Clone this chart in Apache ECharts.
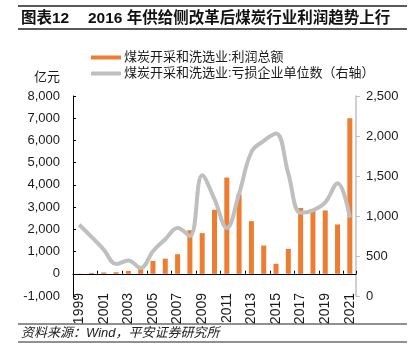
<!DOCTYPE html>
<html>
<head>
<meta charset="utf-8">
<script src="https://cdn.jsdelivr.net/npm/echarts@6/dist/echarts.min.js"></script>
<style>html,body{margin:0;padding:0;background:#fff;}#c{width:414px;height:363px;}</style>
</head>
<body>
<div id="c"></div>
<script>
const years = ['1999','2000','2001','2002','2003','2004','2005','2006','2007','2008','2009','2010','2011','2012','2013','2014','2015','2016','2017','2018','2019','2020','2021'];
const profit = [10, 40, 60, 70, 130, 280, 580, 680, 880, 1960, 1830, 2880, 4330, 3580, 2370, 1270, 450, 1120, 2960, 2890, 2850, 2220, 7000];
const lossCount = [890, 740, 580, 400, 445, 350, 560, 710, 850, 750, 1510, 1210, 850, 1280, 1800, 1940, 2030, 1530, 1040, 1070, 1170, 1410, 980];
const leftTicks = {min: -1000, max: 8000, interval: 1000};
const rightTicks = {min: 0, max: 2500, interval: 500};
const seriesNames = ['煤炭开采和洗选业:利润总额', '煤炭开采和洗选业:亏损企业单位数（右轴）'];

const FONT = '"Liberation Sans", Arial, "Noto Sans CJK SC", sans-serif';
const fmt = v => {
  const s = Math.abs(v).toString().replace(/\B(?=(\d{3})+(?!\d))/g, ',');
  return (v < 0 ? '-' : '') + s;
};
const chart = echarts.init(document.getElementById('c'), null, {renderer: 'canvas'});
chart.setOption({
  animation: false,
  backgroundColor: '#fff',
  textStyle: {fontFamily: FONT},
  grid: {left: 73, right: 58, top: 96, bottom: 67, containLabel: false},
  legend: {
    orient: 'vertical', left: 86, top: 46, itemGap: 3, itemWidth: 30, itemHeight: 4,
    textStyle: {fontSize: 13, color: '#1a1a1a', fontFamily: FONT, lineHeight: 13, padding: [0,0,0,-2]},
    data: [
      {name: seriesNames[0], icon: 'rect'},
      {name: seriesNames[1], icon: 'roundRect'}
    ]
  },
  xAxis: {
    type: 'category', data: years, boundaryGap: true,
    axisLine: {onZero: true, onZeroAxisIndex: 0, lineStyle: {color: '#000', width: 1}},
    axisTick: {show: true, inside: true, length: 3, interval: 1, lineStyle: {color: '#000'}},
    axisLabel: {rotate: 90, interval: 1, margin: -3, fontSize: 14, color: '#1a1a1a', fontFamily: FONT}
  },
  yAxis: [
    {
      type: 'value', min: leftTicks.min, max: leftTicks.max, interval: leftTicks.interval,
      axisLine: {show: true, lineStyle: {color: '#000', width: 1}},
      axisTick: {show: true, inside: true, length: 3, lineStyle: {color: '#000'}},
      axisLabel: {formatter: fmt, fontSize: 13, color: '#1a1a1a', margin: 13, fontFamily: FONT},
      splitLine: {show: false}
    },
    {
      type: 'value', min: rightTicks.min, max: rightTicks.max, interval: rightTicks.interval,
      position: 'right',
      axisLine: {show: true, lineStyle: {color: '#bfbfbf', width: 1.5}},
      axisTick: {show: true, inside: false, length: 4, lineStyle: {color: '#bfbfbf'}},
      axisLabel: {formatter: fmt, fontSize: 13, color: '#1a1a1a', margin: 10, fontFamily: FONT},
      splitLine: {show: false}
    }
  ],
  series: [
    {
      name: seriesNames[0], type: 'bar', yAxisIndex: 0, data: profit, barWidth: 5,
      itemStyle: {color: '#ED7D31'}, z: 2
    },
    {
      name: seriesNames[1], type: 'line', yAxisIndex: 1, data: lossCount, smooth: 0.4,
      showSymbol: false, symbol: 'none', lineStyle: {color: '#BFBFBF', width: 4},
      itemStyle: {color: '#BFBFBF'}, z: 3
    }
  ],
  graphic: [
    {type: 'line', shape: {x1: 18, y1: 6, x2: 407, y2: 6}, style: {stroke: '#222', lineWidth: 1.5}},
    {type: 'line', shape: {x1: 18, y1: 29, x2: 407, y2: 29}, style: {stroke: '#222', lineWidth: 1.5}},
    {type: 'text', left: 21, top: 11, style: {text: '图表12', font: 'bold 15.5px ' + FONT, fill: '#111'}},
    {type: 'text', left: 88, top: 11, style: {text: '2016 年供给侧改革后煤炭行业利润趋势上行', font: 'bold 15.5px ' + FONT, fill: '#111'}},
    {type: 'text', left: 34, top: 71, style: {text: '亿元', font: '13px ' + FONT, fill: '#1a1a1a'}},
    {type: 'line', shape: {x1: 18, y1: 324, x2: 407, y2: 324}, style: {stroke: '#222', lineWidth: 1}},
    {type: 'text', left: 21, top: 327, style: {text: '资料来源：Wind，平安证券研究所', font: 'italic 13px ' + FONT, fill: '#222'}},
    {type: 'line', shape: {x1: 18, y1: 342, x2: 407, y2: 342}, style: {stroke: '#222', lineWidth: 1}}
  ]
});
</script>
</body>
</html>
